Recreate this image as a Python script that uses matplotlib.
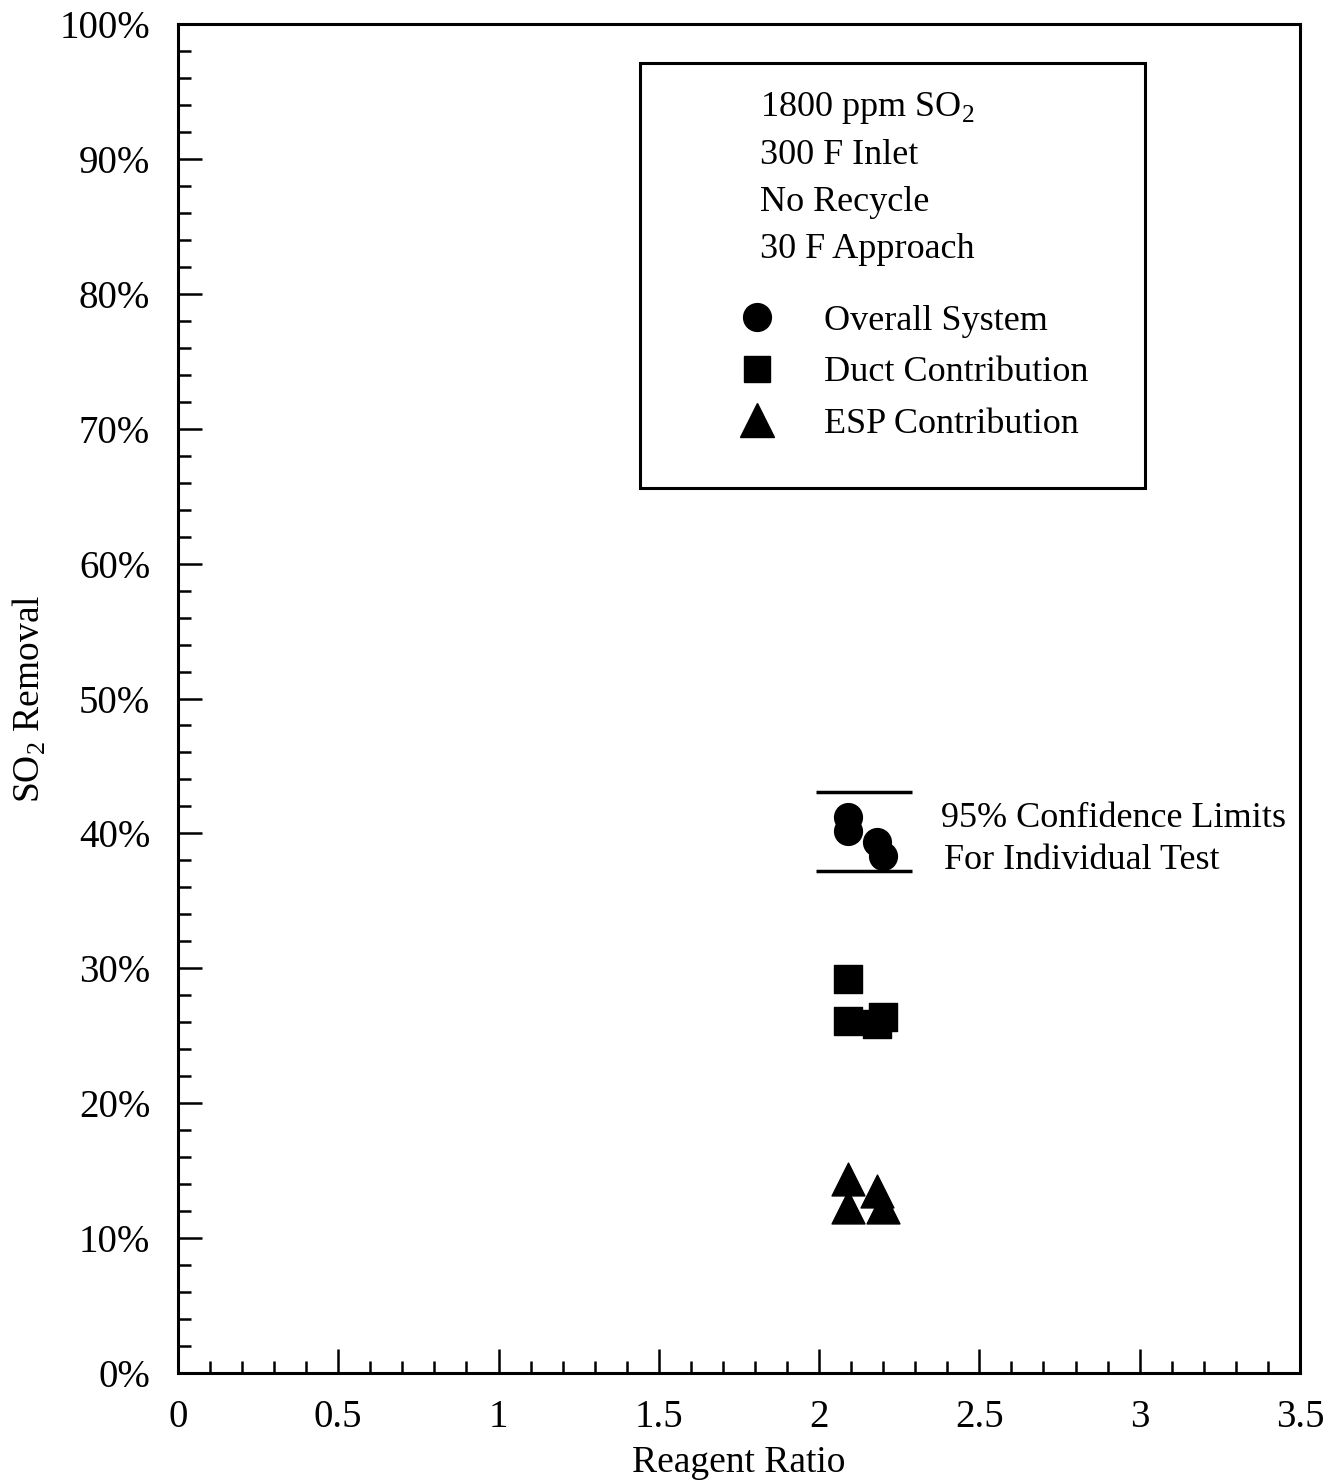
import matplotlib
matplotlib.use('Agg')
import matplotlib.pyplot as plt
from matplotlib.lines import Line2D
from matplotlib.patches import Rectangle
from matplotlib.ticker import MultipleLocator

plt.rcParams['font.family'] = ['Liberation Serif', 'DejaVu Serif']
plt.rcParams['mathtext.fontset'] = 'custom'
plt.rcParams['mathtext.rm'] = 'Liberation Serif'

# Data (reagent ratio vs % SO2 removal)
overall_x = [2.09, 2.09, 2.18, 2.20]
overall_y = [41.2, 40.2, 39.4, 38.3]
duct_x = [2.09, 2.09, 2.18, 2.20]
duct_y = [29.2, 26.1, 25.9, 26.4]
esp_x = [2.09, 2.09, 2.18, 2.20]
esp_y = [14.4, 12.3, 13.5, 12.3]

# 95% confidence limits for an individual test
conf_upper = 43.1
conf_lower = 37.2
conf_xrange = [1.99, 2.29]

xticks = [0, 0.5, 1, 1.5, 2, 2.5, 3, 3.5]
xtick_labels = ['0', '0.5', '1', '1.5', '2', '2.5', '3', '3.5']
yticks = [0, 10, 20, 30, 40, 50, 60, 70, 80, 90, 100]
ytick_labels = [f'{v}%' for v in yticks]

conditions = ['1800 ppm SO$_2$', '300 F Inlet', 'No Recycle', '30 F Approach']

fig = plt.figure(figsize=(13.4, 14.84), dpi=100)
ax = fig.add_axes([0.1328, 0.0748, 0.8373, 0.909])

ax.scatter(overall_x, overall_y, marker='o', s=400, color='black', zorder=3)
ax.scatter(duct_x, duct_y, marker='s', s=380, color='black', zorder=3)
ax.scatter(esp_x, esp_y, marker='^', s=560, color='black', zorder=3)

for yv in (conf_upper, conf_lower):
    ax.hlines(yv, conf_xrange[0], conf_xrange[1], color='black', lw=2.5)

ax.text(2.38, 41.1, '95% Confidence Limits', fontsize=26, va='center')
ax.text(2.39, 38.0, 'For Individual Test', fontsize=26, va='center')

ax.set_xlim(0, 3.5)
ax.set_ylim(0, 100)
ax.set_xticks(xticks)
ax.set_xticklabels(xtick_labels)
ax.set_yticks(yticks)
ax.set_yticklabels(ytick_labels)
ax.xaxis.set_minor_locator(MultipleLocator(0.1))
ax.yaxis.set_minor_locator(MultipleLocator(2))
ax.tick_params(which='both', direction='in', top=False, right=False, width=1.8,
               labelsize=28)
ax.tick_params(which='major', length=17)
ax.tick_params(which='minor', length=9)
ax.tick_params(axis='y', pad=20)
ax.tick_params(axis='x', pad=19)
for sp in ax.spines.values():
    sp.set_linewidth(2.2)

ax.set_xlabel('Reagent Ratio', fontsize=27)
ax.set_ylabel('SO$_2$ Removal', fontsize=27)
ax.xaxis.set_label_coords(0.5, -0.054)
ax.yaxis.set_label_coords(-0.116, 0.5)

# legend box with test conditions
box = Rectangle((0.4118, 0.6561), 0.4501, 0.3151, transform=ax.transAxes,
                fill=False, edgecolor='black', lw=2.2)
ax.add_patch(box)
for i, line in enumerate(conditions):
    ax.text(0.519, 0.9379 - i * 0.0350, line, transform=ax.transAxes,
            fontsize=26, va='center')

handles = [
    Line2D([], [], ls='none', marker='o', ms=20, color='black', label='Overall System'),
    Line2D([], [], ls='none', marker='s', ms=19, color='black', label='Duct Contribution'),
    Line2D([], [], ls='none', marker='^', ms=24, color='black', label='ESP Contribution'),
]
ax.legend(handles=handles, loc='upper left', bbox_to_anchor=(0.502, 0.7920),
          frameon=False, fontsize=26, handlelength=0.9, handletextpad=1.4,
          labelspacing=0.5, borderpad=0, borderaxespad=0)

fig.savefig('out.png', dpi=100)
